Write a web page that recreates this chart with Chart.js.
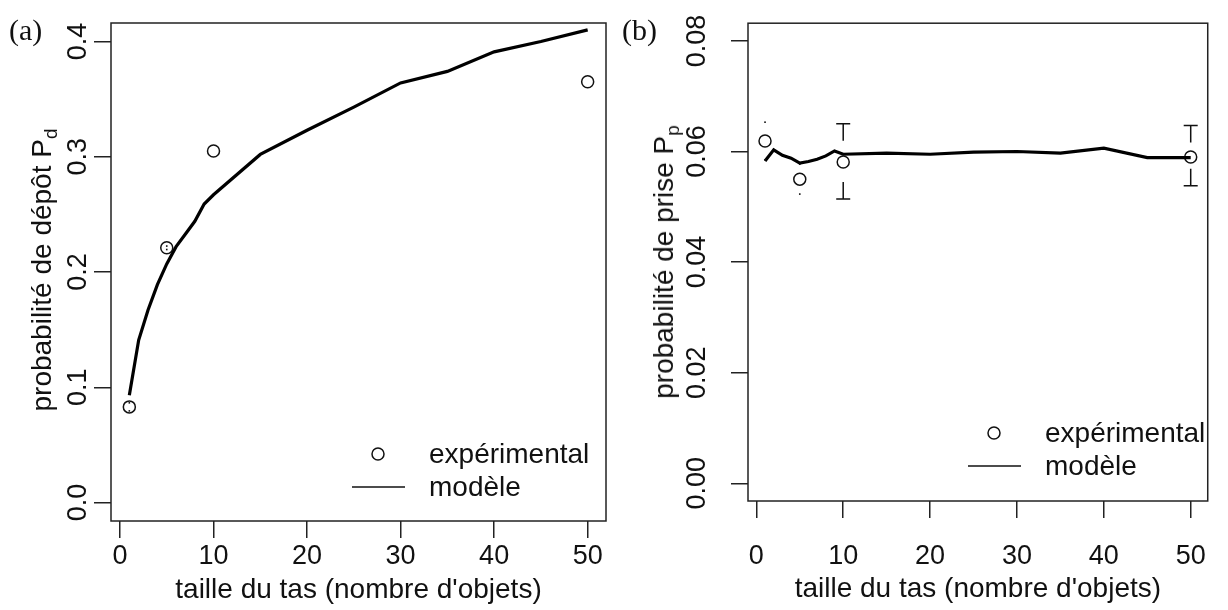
<!DOCTYPE html>
<html>
<head>
<meta charset="utf-8">
<script src="https://cdn.jsdelivr.net/npm/chart.js@4.4.1/dist/chart.umd.min.js"></script>
<style>
  body { margin: 0; background: #fff; }
  #wrap { position: relative; width: 1228px; height: 610px; overflow: hidden; background: #fff; }
  canvas { position: absolute; top: 0; }
  .panel { position: absolute; font-family: "Liberation Serif", serif; font-size: 30px; color: #111; line-height: 30px; }
  .ytitle { position: absolute; font-family: "Liberation Sans", Arial, sans-serif; font-size: 28px; line-height: 34px;
            color: #111; white-space: nowrap; transform: translate(-50%, -50%) rotate(-90deg); }
  .ytitle sub { font-size: 19px; line-height: 0; vertical-align: -6px; }
</style>
</head>
<body>
<div id="wrap">
  <canvas id="chartA" width="614" height="610" style="left:0"></canvas>
  <canvas id="chartB" width="614" height="610" style="left:614px"></canvas>
  <div class="panel" style="left:9px; top:15px">(a)</div>
  <div class="panel" style="left:622px; top:15px">(b)</div>
  <div class="ytitle" style="left:42px; top:270px">probabilité de dépôt P<sub>d</sub></div>
  <div class="ytitle" style="left:664px; top:262px">probabilité de prise P<sub>p</sub></div>
</div>
<script>
// Data
const heapSizes = [1, 2, 3, 4, 5, 6, 7, 8, 9, 10, 15, 20, 25, 30, 35, 40, 45, 50];
const modelDepot = [0.093, 0.141, 0.167, 0.189, 0.207, 0.222, 0.233, 0.244, 0.259, 0.267, 0.302, 0.323, 0.343, 0.364, 0.374, 0.391, 0.400, 0.410];
const modelPrise = [0.0583, 0.0603, 0.0593, 0.0588, 0.0579, 0.0582, 0.0586, 0.0592, 0.0601, 0.0595, 0.0597, 0.0595, 0.0599, 0.0600, 0.0597, 0.0606, 0.0589, 0.0589];

const expSizes = [1, 5, 10, 50];
const expDepot = [0.083, 0.221, 0.305, 0.365];
const expDepotHigh = [0.0865, 0.2225, null, null];
const expDepotLow = [0.0795, 0.2195, null, null];
const expPrise = [0.0619, 0.0550, 0.0581, 0.0590];
const expPriseHigh = [0.0653, 0.0577, 0.0650, 0.0647];
const expPriseLow = [0.0585, 0.0523, 0.0514, 0.0538];

const xTicks = [0, 10, 20, 30, 40, 50];
const depotTicks = [0, 0.1, 0.2, 0.3, 0.4];
const priseTicks = [0, 0.02, 0.04, 0.06, 0.08];

const FONT = '"Liberation Sans", Arial, sans-serif';
const INK = '#111';

// closed box around the plot region, like R's box()
const boxPlugin = {
    id: 'box',
    afterDatasetsDraw(chart) {
        const { ctx, chartArea: a } = chart;
        ctx.save();
        ctx.strokeStyle = '#222';
        ctx.lineWidth = 1.5;
        ctx.strokeRect(a.left, a.top, a.right - a.left, a.bottom - a.top);
        ctx.restore();
    }
};

// legend drawn inside the plot (circle + line)
const rLegend = {
    id: 'rLegend',
    afterDraw(chart, args, opts) {
        if (!opts.x) return;
        const ctx = chart.ctx;
        const cx = opts.x, cy = opts.y;
        ctx.save();
        ctx.strokeStyle = INK;
        ctx.lineWidth = 1.5;
        ctx.beginPath();
        ctx.arc(cx, cy, 6, 0, Math.PI * 2);
        ctx.stroke();
        ctx.beginPath();
        ctx.moveTo(cx - 26, cy + 33);
        ctx.lineTo(cx + 27, cy + 33);
        ctx.stroke();
        ctx.fillStyle = INK;
        ctx.font = '28px ' + FONT;
        ctx.textBaseline = 'alphabetic';
        ctx.fillText('expérimental', cx + 51, cy + 9);
        ctx.fillText('modèle', cx + 51, cy + 42);
        ctx.restore();
    }
};

// error bar ends: small T / ⊥ marks, or a dot when the bar is short
const errorMarks = {
    id: 'errorMarks',
    afterDatasetsDraw(chart, args, opts) {
        if (!opts.high) return;
        const { ctx, scales: { x, y } } = chart;
        ctx.save();
        ctx.strokeStyle = INK;
        ctx.fillStyle = INK;
        ctx.lineWidth = 1.5;
        opts.xs.forEach((v, i) => {
            const px = x.getPixelForValue(v);
            const pc = y.getPixelForValue(opts.mid[i]);
            [[opts.high[i], 1], [opts.low[i], -1]].forEach(([val, dir]) => {
                if (val === null) return;
                const pe = y.getPixelForValue(val);
                if (Math.abs(pc - pe) > 25) {
                    ctx.beginPath();
                    ctx.moveTo(px - 7, pe);
                    ctx.lineTo(px + 7, pe);
                    ctx.moveTo(px, pe);
                    ctx.lineTo(px, pe + dir * 17);
                    ctx.stroke();
                } else {
                    ctx.fillRect(px - 0.8, pe - 0.8, 1.6, 1.6);
                }
            });
        });
        ctx.restore();
    }
};

function xyPoints(xs, ys) {
    return xs.map((v, i) => ({ x: v, y: ys[i] }));
}

function makeChart(id, cfg) {
    const ctx = document.getElementById(id).getContext('2d');
    return new Chart(ctx, {
        type: 'scatter',
        data: {
            datasets: [{
                label: 'modèle',
                data: xyPoints(heapSizes, cfg.model),
                showLine: true,
                borderColor: '#000',
                borderWidth: 3.2,
                pointRadius: 0,
                tension: 0,
                fill: false
            }, {
                label: 'expérimental',
                data: xyPoints(expSizes, cfg.exp),
                pointStyle: 'circle',
                pointRadius: 6,
                borderColor: INK,
                borderWidth: 1.5,
                backgroundColor: 'rgba(0,0,0,0)'
            }]
        },
        options: {
            responsive: false,
            animation: false,
            devicePixelRatio: 1,
            layout: { padding: cfg.padding },
            plugins: {
                legend: { display: false },
                tooltip: { enabled: false },
                rLegend: cfg.legend,
                errorMarks: cfg.errors
            },
            scales: {
                x: {
                    type: 'linear',
                    min: -0.96,
                    max: 51.96,
                    afterBuildTicks: s => { s.ticks = xTicks.map(v => ({ value: v })); },
                    afterFit: s => { s.height = cfg.xHeight; },
                    border: { display: false },
                    grid: { drawOnChartArea: false, drawTicks: true, tickLength: 17, color: '#222', lineWidth: 1.5 },
                    ticks: { color: INK, font: { family: FONT, size: 27 }, padding: cfg.xPad, maxRotation: 0, autoSkip: false },
                    title: { display: true, text: "taille du tas (nombre d'objets)", color: INK,
                             font: { family: FONT, size: 28 }, padding: { top: 0, bottom: cfg.xTitlePad } }
                },
                y: {
                    type: 'linear',
                    min: cfg.yMin,
                    max: cfg.yMax,
                    afterBuildTicks: s => { s.ticks = cfg.yTicks.map(v => ({ value: v })); },
                    afterFit: s => { s.width = cfg.yWidth; },
                    border: { display: false },
                    grid: { drawOnChartArea: false, drawTicks: true, tickLength: 17, color: '#222', lineWidth: 1.5 },
                    ticks: {
                        color: INK, font: { family: FONT, size: 27 }, padding: cfg.yPad,
                        minRotation: 90, maxRotation: 90, crossAlign: 'center', autoSkip: false,
                        callback: v => v.toFixed(cfg.digits)
                    }
                }
            }
        },
        plugins: [boxPlugin, rLegend, errorMarks]
    });
}

makeChart('chartA', {
    model: modelDepot,
    exp: expDepot,
    yMin: -0.016, yMax: 0.416, yTicks: depotTicks, digits: 1,
    padding: { top: 23, right: 8, left: 0, bottom: 0 },
    xHeight: 89, yWidth: 111,
    xPad: 2, yPad: -3, xTitlePad: 3,
    legend: { x: 378, y: 454 },
    errors: { xs: expSizes, mid: expDepot, high: expDepotHigh, low: expDepotLow }
});

makeChart('chartB', {
    model: modelPrise,
    exp: expPrise,
    yMin: -0.0032, yMax: 0.0832, yTicks: priseTicks, digits: 2,
    padding: { top: 23, right: 7, left: 0, bottom: 0 },
    xHeight: 109, yWidth: 134,
    xPad: 22, yPad: 7, xTitlePad: 4,
    legend: { x: 380, y: 433 },
    errors: { xs: expSizes, mid: expPrise, high: expPriseHigh, low: expPriseLow }
});
</script>
</body>
</html>
